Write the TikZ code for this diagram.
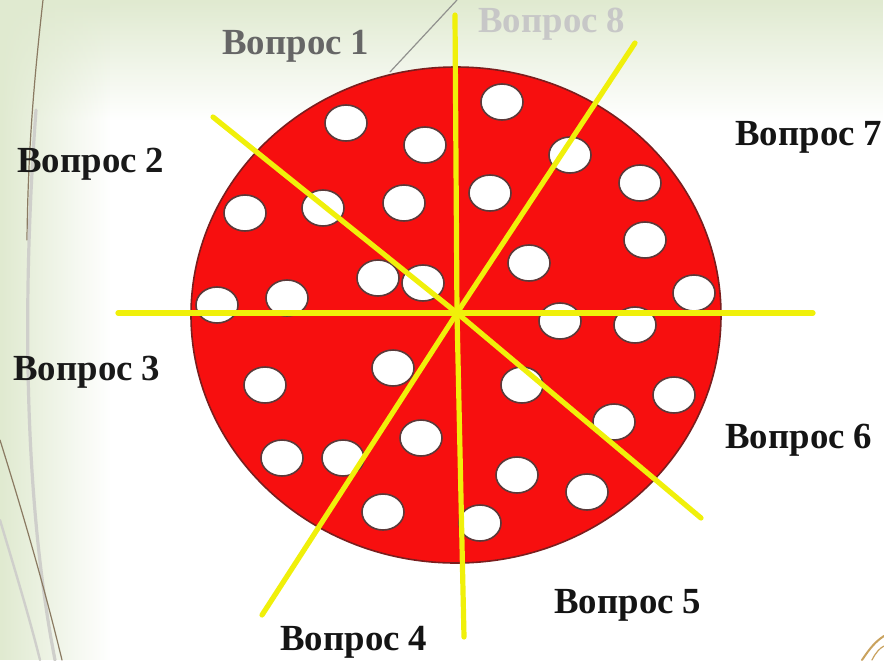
\documentclass[tikz,border=0pt]{standalone}
\usepackage{fontspec}
\setmainfont{Liberation Serif}
\usetikzlibrary{fadings}

\definecolor{bgGreen}{HTML}{E0EAD0}
\definecolor{pizzaRed}{HTML}{F70F0F}
\definecolor{rimRed}{HTML}{7A1E1E}
\definecolor{cutYellow}{HTML}{F0F00A}
\definecolor{holeEdge}{HTML}{5A3A3A}
\definecolor{decoBrown}{HTML}{8A7A62}
\definecolor{decoGray}{HTML}{CFCFCB}
\definecolor{decoGold}{HTML}{C9A25E}
\tikzfading[name=fadeRight, left color=transparent!0, right color=transparent!100]
\tikzfading[name=fadeDown, top color=transparent!0, bottom color=transparent!100]

\begin{document}
\begin{tikzpicture}[x=0.5pt,y=-0.5pt,line cap=round,line join=round]
  \tikzset{
    qlabel/.style={anchor=base west,inner sep=0pt,font=\bfseries\fontsize{18.4}{22}\selectfont},
    cutline/.style={cutYellow,line width=2.6pt},
    hole/.style={fill=white,draw=holeEdge,line width=0.8pt},
    deco/.style={line width=0.6pt},
  }
  \useasboundingbox (0,0) rectangle (884,660);

  % ==================== background ====================
  \fill[white] (0,0) rectangle (884,660);
  \fill[bgGreen,path fading=fadeDown] (0,0) rectangle (884,120);
  \fill[bgGreen,path fading=fadeRight] (0,0) rectangle (110,660);
  \draw[deco,decoBrown] (43,0) .. controls (34,80) and (28,150) .. (27,240);
  \draw[decoGray,line width=1.6pt] (36,110) .. controls (22,300) and (24,500) .. (55,660);
  \draw[deco,decoBrown] (0,440) .. controls (25,520) and (45,590) .. (62,660);
  \draw[decoGray,line width=1.2pt] (0,520) .. controls (18,580) and (30,620) .. (40,660);
  \draw[deco,decoGray!70!black] (457,0) -- (390,72);
  \draw[decoGold,line width=1pt] (862,660) .. controls (870,648) and (876,641) .. (884,636);
  \draw[decoGold,line width=0.6pt] (872,660) .. controls (876,652) and (880,648) .. (884,646);

  % ==================== pizza ====================
  \draw[fill=pizzaRed,draw=rimRed,line width=0.8pt] (456,315) ellipse [x radius=265, y radius=248];
  \foreach \hx/\hy in {346/123,425/145,502/102,570/155,640/183,245/213,323/208,404/203,490/193,
                       645/240,529/263,378/278,423/283,217/305,287/298,694/293,560/321,635/325,
                       265/385,393/368,522/385,674/395,614/422,421/438,282/458,343/458,
                       517/475,587/492,383/512,480/523}
    \draw[hole] (\hx,\hy) ellipse [x radius=21, y radius=18];

  % ==================== cuts ====================
  \coordinate (C) at (457,313);
  \coordinate (L_W) at (118,313);
  \coordinate (L_E) at (813,313);
  \coordinate (L_N) at (455,15);
  \coordinate (L_S) at (464,637);
  \coordinate (L_NW) at (213,117);
  \coordinate (L_SE) at (701,518);
  \coordinate (L_NE) at (635,43);
  \coordinate (L_SW) at (262,615);

  \draw[cutline] (L_W) -- (C) -- (L_E);
  \draw[cutline] (L_N) -- (C) -- (L_S);
  \draw[cutline] (L_NW) -- (C) -- (L_SE);
  \draw[cutline] (L_NE) -- (C) -- (L_SW);

  % ==================== labels ====================
  \node[qlabel,text=black!60] (q1) at (222,54) {Вопрос 1};
  \node[qlabel,text=black!90] (q2) at (17,172) {Вопрос 2};
  \node[qlabel,text=black!90] (q3) at (13,380) {Вопрос 3};
  \node[qlabel,text=black!92] (q4) at (280,650) {Вопрос 4};
  \node[qlabel,text=black!92] (q5) at (554,613) {Вопрос 5};
  \node[qlabel,text=black!92] (q6) at (725,448) {Вопрос 6};
  \node[qlabel,text=black!92] (q7) at (735,145) {Вопрос 7};
  \node[qlabel,text=black!22] (q8) at (478,32) {Вопрос 8};
\end{tikzpicture}
\end{document}
